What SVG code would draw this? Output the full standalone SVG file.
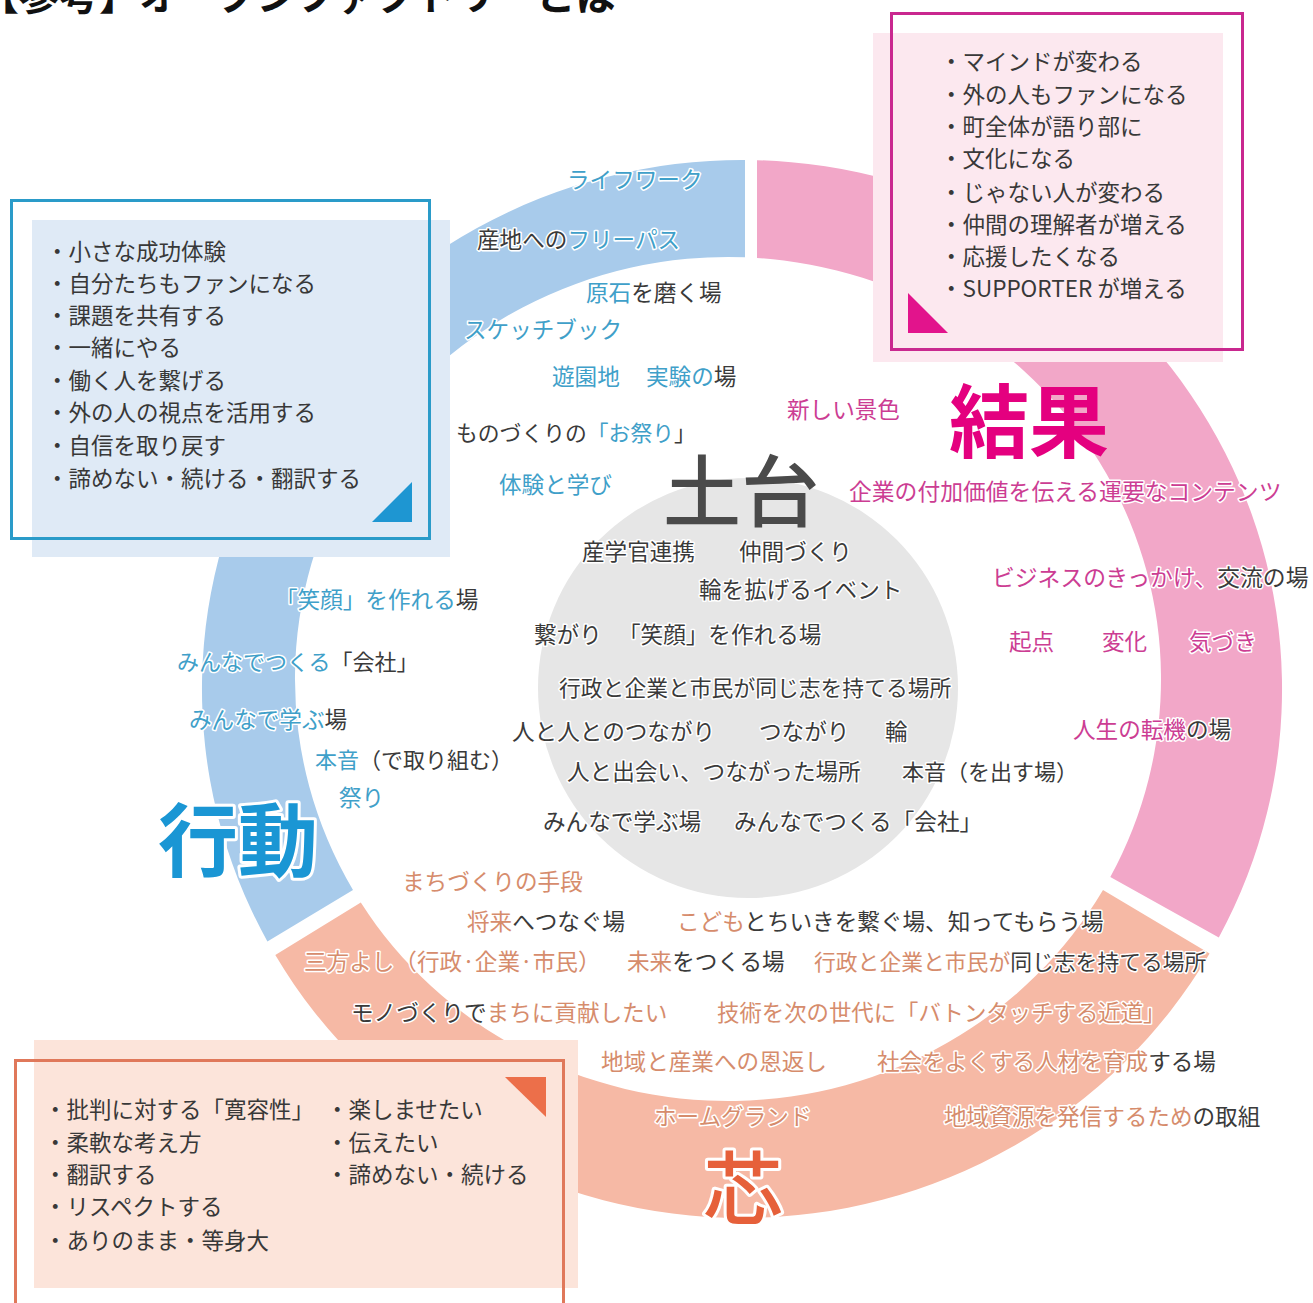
<svg xmlns="http://www.w3.org/2000/svg" width="1313" height="1303" viewBox="0 0 1313 1303">
<style>
text{font-family:"Noto Sans CJK JP","Noto Sans",sans-serif}
.lb{font-size:22.6px;stroke:#fff;stroke-width:3px;paint-order:stroke;stroke-linejoin:round}
.bx{font-size:22.5px;fill:#383838}
.dk{fill:#3a3a3a}
.bl{fill:#3fa0c9}
.mg{fill:#cc3d93}
.sa{fill:#d68c6c}
.big{font-size:80px;font-weight:700}
.halo{stroke:#fff;stroke-width:6px;paint-order:stroke;stroke-linejoin:round}
</style>
<rect width="1313" height="1303" fill="#fff"/>
<text x="-21" y="10" font-size="40" font-weight="700" fill="#111">【参考】オープンファクトリーとは</text>

<g id="ring">
<path id="band-action" d="M267.4,941.4 A540,529 0 0 1 745,160 L745,257.3 A433,422 0 0 0 353,890 Z" fill="#a8cbeb"/>
<path id="band-result" d="M757,160.2 A540,529 0 0 1 1218.8,937.4 L1110.3,877.1 A433,422 0 0 0 757,257.9 Z" fill="#f2a7c8"/>
<path id="band-core" d="M1209.6,953.5 A540,529 0 0 1 275.3,955.1 L360.8,902.6 A433,422 0 0 0 1103,890 Z" fill="#f6b9a5"/>
</g>
<g id="connectors"/>

<g id="foundation">
<circle cx="748" cy="688" r="210" fill="#e6e6e6"/>
</g>

<g id="box-action">
<rect x="32" y="220" width="418" height="337" fill="#dfeaf6"/>
<rect x="11.5" y="200.5" width="418" height="338" fill="none" stroke="#2a9bc9" stroke-width="3"/>
<polygon points="372,522 412,522 412,482" fill="#1e96d2"/>
<text class="bx" x="46">
<tspan x="46" y="260">・小さな成功体験</tspan>
<tspan x="46" y="292">・自分たちもファンになる</tspan>
<tspan x="46" y="324">・課題を共有する</tspan>
<tspan x="46" y="356">・一緒にやる</tspan>
<tspan x="46" y="389">・働く人を繋げる</tspan>
<tspan x="46" y="421">・外の人の視点を活用する</tspan>
<tspan x="46" y="454">・自信を取り戻す</tspan>
<tspan x="46" y="487">・諦めない・続ける・翻訳する</tspan>
</text>
</g>

<g id="box-result">
<rect x="873" y="33" width="350" height="329" fill="#fce8ef"/>
<rect x="891.5" y="13.5" width="351" height="336" fill="none" stroke="#c9288f" stroke-width="3"/>
<polygon points="908,293 908,333 948,333" fill="#e2148c"/>
<text class="bx">
<tspan x="940" y="70">・マインドが変わる</tspan>
<tspan x="940" y="103">・外の人もファンになる</tspan>
<tspan x="940" y="135">・町全体が語り部に</tspan>
<tspan x="940" y="167">・文化になる</tspan>
<tspan x="940" y="201">・じゃない人が変わる</tspan>
<tspan x="940" y="233">・仲間の理解者が増える</tspan>
<tspan x="940" y="265">・応援したくなる</tspan>
<tspan x="940" y="297">・SUPPORTER が増える</tspan>
</text>
</g>

<g id="box-core">
<rect x="34" y="1040" width="544" height="248" fill="#fce4da"/>
<rect x="15.5" y="1060.5" width="548" height="260" fill="none" stroke="#e0785a" stroke-width="3"/>
<polygon points="505,1077 546,1077 546,1117" fill="#ec6f4a"/>
<text class="bx">
<tspan x="44" y="1118">・批判に対する「寛容性」</tspan>
<tspan x="44" y="1151">・柔軟な考え方</tspan>
<tspan x="44" y="1183">・翻訳する</tspan>
<tspan x="44" y="1215">・リスペクトする</tspan>
<tspan x="44" y="1249">・ありのまま・等身大</tspan>
<tspan x="326" y="1118">・楽しませたい</tspan>
<tspan x="326" y="1151">・伝えたい</tspan>
<tspan x="326" y="1183">・諦めない・続ける</tspan>
</text>
</g>

<g id="labels-action">
<text class="lb bl" x="567" y="188">ライフワーク</text>
<text class="lb" x="477" y="248"><tspan class="dk">産地への</tspan><tspan class="bl">フリーパス</tspan></text>
<text class="lb" x="586" y="301"><tspan class="bl">原石</tspan><tspan class="dk">を磨く場</tspan></text>
<text class="lb bl" x="464" y="338">スケッチブック</text>
<text class="lb bl" x="552" y="385">遊園地</text>
<text class="lb" x="646" y="385"><tspan class="bl">実験の</tspan><tspan class="dk">場</tspan></text>
<text class="lb" x="456" y="441" style="font-size:21.8px"><tspan class="dk">ものづくりの</tspan><tspan class="bl">「お祭り</tspan><tspan class="dk">」</tspan></text>
<text class="lb bl" x="499" y="493">体験と学び</text>
<text class="lb" x="275" y="608"><tspan class="bl">「笑顔」を作れる</tspan><tspan class="dk">場</tspan></text>
<text class="lb" x="177" y="670" style="font-size:22px"><tspan class="bl">みんなでつくる</tspan><tspan class="dk">「会社」</tspan></text>
<text class="lb" x="189" y="728"><tspan class="bl">みんなで学ぶ</tspan><tspan class="dk">場</tspan></text>
<text class="lb" x="315" y="768" style="font-size:22px"><tspan class="bl">本音</tspan><tspan class="dk">（で取り組む）</tspan></text>
<text class="lb bl" x="339" y="806">祭り</text>
<text class="big halo" x="158" y="870" fill="#1a96d4">行動</text>
</g>

<g id="labels-result">
<text class="lb mg" x="787" y="418">新しい景色</text>
<text class="big" x="949" y="451" fill="#e4007f">結果</text>
<text class="lb mg" x="849" y="500" style="font-size:22.8px">企業の付加価値を伝える運要なコンテンツ</text>
<text class="lb" x="992" y="586" style="font-size:22.8px"><tspan class="mg">ビジネスのきっかけ、</tspan><tspan class="dk">交流の場</tspan></text>
<text class="lb mg" x="1009" y="650">起点</text>
<text class="lb mg" x="1102" y="650">変化</text>
<text class="lb mg" x="1189" y="650">気づき</text>
<text class="lb" x="1073" y="738"><tspan class="mg">人生の転機</tspan><tspan class="dk">の場</tspan></text>
</g>

<g id="labels-foundation">
<text x="663" y="521" fill="#4a4a4a" style="font-size:78px;font-weight:500">土台</text>
<text class="lb dk" x="582" y="560">産学官連携</text>
<text class="lb dk" x="739" y="560">仲間づくり</text>
<text class="lb dk" x="699" y="598">輪を拡げるイベント</text>
<text class="lb dk" x="534" y="643">繋がり</text>
<text class="lb dk" x="618" y="643">「笑顔」を作れる場</text>
<text class="lb dk" x="559" y="696" style="font-size:21.8px">行政と企業と市民が同じ志を持てる場所</text>
<text class="lb dk" x="512" y="740">人と人とのつながり</text>
<text class="lb dk" x="759" y="740">つながり</text>
<text class="lb dk" x="885" y="740">輪</text>
<text class="lb dk" x="567" y="780">人と出会い、つながった場所</text>
<text class="lb dk" x="902" y="780" style="font-size:22px">本音（を出す場）</text>
<text class="lb dk" x="543" y="830">みんなで学ぶ場</text>
<text class="lb dk" x="734" y="830">みんなでつくる「会社」</text>
</g>

<g id="labels-core">
<text class="lb sa" x="402" y="890">まちづくりの手段</text>
<text class="lb" x="467" y="930"><tspan class="sa">将来</tspan><tspan class="dk">へつなぐ場</tspan></text>
<text class="lb" x="677" y="930"><tspan class="sa">こども</tspan><tspan class="dk">とちいきを繋ぐ場、知ってもらう場</tspan></text>
<text class="lb sa" x="304" y="970">三方よし（行政·企業·市民）</text>
<text class="lb" x="627" y="970"><tspan class="sa">未来</tspan><tspan class="dk">をつくる場</tspan></text>
<text class="lb" x="814" y="970" style="font-size:21.8px"><tspan class="sa">行政と企業と市民が</tspan><tspan class="dk">同じ志を持てる場所</tspan></text>
<text class="lb" x="351" y="1021"><tspan class="dk">モノづくりで</tspan><tspan class="sa">まちに貢献したい</tspan></text>
<text class="lb sa" x="717" y="1021" style="font-size:22.4px">技術を次の世代に「バトンタッチする近道」</text>
<text class="lb sa" x="601" y="1070">地域と産業への恩返し</text>
<text class="lb" x="877" y="1070"><tspan class="sa">社会をよくする人材を育成</tspan><tspan class="dk">する場</tspan></text>
<text class="lb sa" x="654" y="1125">ホームグランド</text>
<text class="lb" x="944" y="1125"><tspan class="sa">地域資源を発信するため</tspan><tspan class="dk">の取組</tspan></text>
<text class="big halo" x="703" y="1218" fill="#e6603a" style="font-weight:500">芯</text>
</g>
</svg>
